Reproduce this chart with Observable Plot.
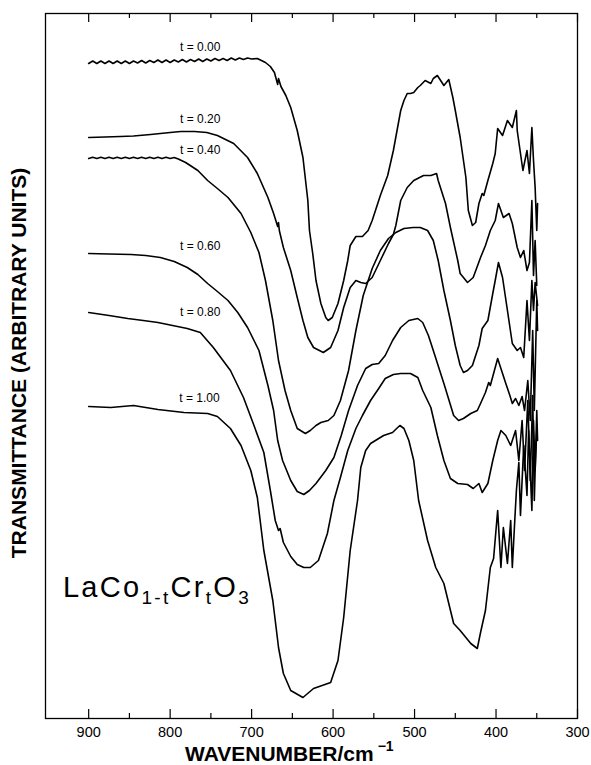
<!DOCTYPE html>
<html><head><meta charset="utf-8">
<script src="https://cdn.jsdelivr.net/npm/d3@7"></script>
<script src="https://cdn.jsdelivr.net/npm/@observablehq/plot@0.6"></script>
<style>body{margin:0;background:#fff}</style>
</head><body><div id="chart"></div>
<script>
// wavenumber (cm^-1), transmittance (arbitrary units, stacked offsets)
const t000 = [[900,655],[895,657.5],[890,655],[885,657.5],[880,655],[875,657.5],[870,655],[865,657.5],[860,655],[855,657.5],[850,655],[845,657.5],[840,655.5],[835,658],[830,655.5],[825,658],[820,656],[815,658.5],[810,656],[805,658.5],[800,656],[795,658.5],[790,656.5],[785,659],[780,656.5],[775,659],[770,657],[765,659.5],[760,657],[755,659.5],[750,657.5],[745,660],[740,658],[735,660],[730,658],[725,660.5],[720,658.5],[715,660.5],[710,659],[705,660.5],[700,659.5],[693,660],[688,658],[683,656],[677,652],[672,646],[670,640],[668,634],[667,640],[664,632],[658,623],[652,611],[644,588],[637,561],[631,518],[629,488],[625,465],[621,438],[615,415],[609,401],[606,398],[601,401],[594,415],[587,438],[582,458],[579,473],[572,482],[564,482],[557,488],[552,498],[542,523],[533,543],[526,568],[517,608],[513,618],[509,625],[505,625],[501,626],[496,631],[493,633],[487,638],[480,635],[477,640],[472,643],[468,638],[464,633],[458,639],[453,621],[450,608],[444,581],[437,541],[434,508],[429,493],[425,496],[421,515],[417,525],[415,523],[410,538],[404,555],[401,565],[398,590],[392,583],[386,598],[380,591],[375,608],[374,588],[367,548],[362,568],[359,545],[356,591],[354,558],[352,531],[350,488],[349,515]];
const t020 = [[900,581],[880,581.5],[861,582],[845,582.5],[824,584],[800,586],[787,587],[770,587],[755,586],[742,583],[722,575],[705,561],[693,545],[680,521],[673,505],[668,492],[667,496],[666,488],[661,471],[652,448],[644,421],[637,398],[631,381],[624,371],[612,366],[603,371],[594,388],[587,411],[579,431],[572,438],[566,436],[560,435],[552,441],[542,458],[532,475],[526,484],[523,493],[517,518],[509,531],[501,538],[489,543],[480,543],[473,545],[471,538],[462,515],[456,491],[447,458],[444,445],[435,436],[428,441],[419,461],[413,473],[407,488],[401,498],[397,515],[391,501],[384,505],[380,495],[374,471],[370,461],[366,468],[362,448],[359,456],[356,518],[354,443],[352,478],[350,433]];
const t040 = [[900,560],[895,561.2],[890,560],[885,561.2],[880,560],[875,561.2],[870,560],[865,561.2],[860,560],[855,561.2],[850,560],[845,561.2],[840,560],[835,561.2],[830,560],[825,561.2],[820,560],[815,561.2],[810,560],[805,561.2],[800,560],[795,561],[790,559.5],[781,556],[766,548],[754,538],[742,530],[729,521],[713,505],[701,486],[691,466],[683,438],[674,398],[667,358],[659,328],[652,308],[644,290],[634,285],[628,288],[621,293],[615,296],[606,298],[599,303],[591,318],[581,348],[572,388],[563,423],[552,450],[542,468],[532,480],[523,486],[513,490],[502,491],[493,491],[484,488],[477,478],[471,458],[464,428],[456,398],[450,373],[444,353],[440,346],[435,348],[429,353],[421,373],[417,390],[410,398],[404,425],[401,438],[397,456],[392,441],[386,408],[380,375],[374,368],[370,371],[366,361],[362,418],[359,378],[356,438],[354,408],[352,436],[349,413]];
const t060 = [[900,465],[875,464.5],[848,464],[830,463],[812,461],[795,457],[779,451],[766,444],[754,435],[742,427],[729,418],[717,406],[705,391],[691,368],[680,333],[673,308],[668,278],[662,258],[652,238],[644,227],[636,224],[629,228],[621,235],[609,248],[599,261],[590,283],[581,308],[570,333],[560,350],[552,354],[544,355],[536,363],[527,378],[517,391],[507,398],[496,400],[490,396],[483,383],[477,368],[464,335],[452,303],[446,298],[440,300],[431,305],[423,308],[419,315],[413,326],[409,336],[407,333],[402,348],[398,360],[394,350],[388,335],[383,323],[380,315],[376,320],[372,313],[368,322],[365,308],[361,338],[358,298],[355,388],[353,308],[350,418],[349,388]];
const t080 = [[900,406],[875,403],[852,400],[833,398],[815,396],[797,393],[779,390],[763,386],[747,371],[726,348],[710,321],[698,295],[685,266],[677,228],[671,198],[667,188],[665,190],[661,176],[652,162],[644,154],[636,151],[628,151],[618,158],[607,185],[599,218],[591,241],[582,268],[572,290],[564,303],[554,318],[544,330],[536,340],[526,344],[517,345],[505,345],[496,341],[490,328],[480,311],[472,283],[464,258],[456,240],[447,235],[435,234],[428,230],[421,235],[417,226],[410,235],[404,258],[398,278],[394,288],[388,283],[382,273],[376,288],[372,258],[368,298],[365,248],[361,318],[358,238],[355,323],[353,218],[350,308],[349,278]];
const t100 = [[900,312],[873,311],[845,313],[815,309],[783,306],[754,305],[742,302],[726,290],[713,273],[701,248],[693,221],[685,168],[674,118],[668,78],[667,71],[661,45],[652,28],[637,21],[624,30],[603,36],[594,58],[587,101],[579,168],[570,218],[566,251],[560,268],[554,275],[538,283],[527,286],[522,290],[518,293],[513,290],[507,278],[501,258],[495,218],[484,178],[474,151],[464,135],[452,95],[444,88],[431,75],[423,70],[419,86],[413,108],[407,151],[403,160],[398,208],[394,151],[391,191],[386,155],[382,198],[380,151],[377,198],[375,228],[372,256],[370,203],[366,273],[362,223],[360,288],[356,208],[354,298],[352,248],[350,288]];

const seriesNames = ["t = 0.00","t = 0.20","t = 0.40","t = 0.60","t = 0.80","t = 1.00"];
const seriesData = [t000,t020,t040,t060,t080,t100];
const labelW = [763,763,763,763,763,764];
const labelT = [671,599,568,472,406,320];
const majorTicks = [900,800,700,600,500,400,300];
const minorTicks = [850,750,650,550,450,350];
const xTitle = "WAVENUMBER/cm";
const xTitleSup = "\u22121";
const yTitle = "TRANSMITTANCE (ARBITRARY UNITS)";
const formula = [["LaCo",0],["1-t",1],["Cr",0],["t",1],["O",0],["3",1]];
const formulaW = 931, formulaT = 121;

const rows = [];
seriesData.forEach((s,i)=>s.forEach(([w,T])=>rows.push({series:seriesNames[i], w, T})));
const labels = seriesNames.map((n,i)=>({text:n, w:labelW[i], T:labelT[i]}));

const font = "'Liberation Sans', Arial, Helvetica, sans-serif";
const plot = Plot.plot({
  width:591, height:765,
  marginLeft:45, marginRight:14, marginTop:13, marginBottom:47,
  x:{domain:[953,300], axis:null},
  y:{domain:[0,705], axis:null},
  style:{fontFamily:font, background:"#fff", color:"#000"},
  marks:[
    Plot.frame({stroke:"#000", strokeWidth:1.3}),
    Plot.ruleX(majorTicks, {y1:0, y2:9, stroke:"#000", strokeWidth:1.2}),
    Plot.ruleX(majorTicks, {y1:705, y2:696, stroke:"#000", strokeWidth:1.2}),
    Plot.ruleX(minorTicks, {y1:0, y2:5, stroke:"#000", strokeWidth:1.2}),
    Plot.ruleX(minorTicks, {y1:705, y2:700, stroke:"#000", strokeWidth:1.2}),
    Plot.axisX({ticks:majorTicks, tickSize:0, tickPadding:8, fontSize:14.5, label:null, tickFormat:d=>String(d)}),
    Plot.line(rows, {x:"w", y:"T", z:"series", stroke:"#000", strokeWidth:1.6, strokeLinejoin:"round"}),
    Plot.text(labels, {x:"w", y:"T", text:"text", fontSize:12, fill:"#000"})
  ]
});
document.getElementById("chart").appendChild(plot);

const svg = d3.select(plot);
const xs = plot.scale("x"), ys = plot.scale("y");
// x title
const xt = svg.append("text").attr("x",185).attr("y",761).attr("text-anchor","start")
  .attr("font-family",font).attr("font-weight","bold").attr("font-size",21).attr("fill","#000");
xt.append("tspan").text(xTitle);
xt.append("tspan").attr("font-size",14).attr("dx",4).attr("dy",-10).text(xTitleSup);
// y title
svg.append("text").attr("transform","translate(26,363) rotate(-90)").attr("text-anchor","middle")
  .attr("font-family",font).attr("font-weight","bold").attr("font-size",21).attr("fill","#000").text(yTitle);
// formula
const ft = svg.append("text").attr("x",xs.apply(formulaW)).attr("y",ys.apply(formulaT)).attr("text-anchor","start")
  .attr("font-family",font).attr("font-size",29).attr("letter-spacing",2.3).attr("fill","#000");
let prev = 0;
formula.forEach(([s,sub])=>{
  const dy = (sub - prev) * 7;
  ft.append("tspan").attr("font-size", sub ? 19 : 29).attr("dy", dy).text(s);
  prev = sub;
});
</script></body></html>
